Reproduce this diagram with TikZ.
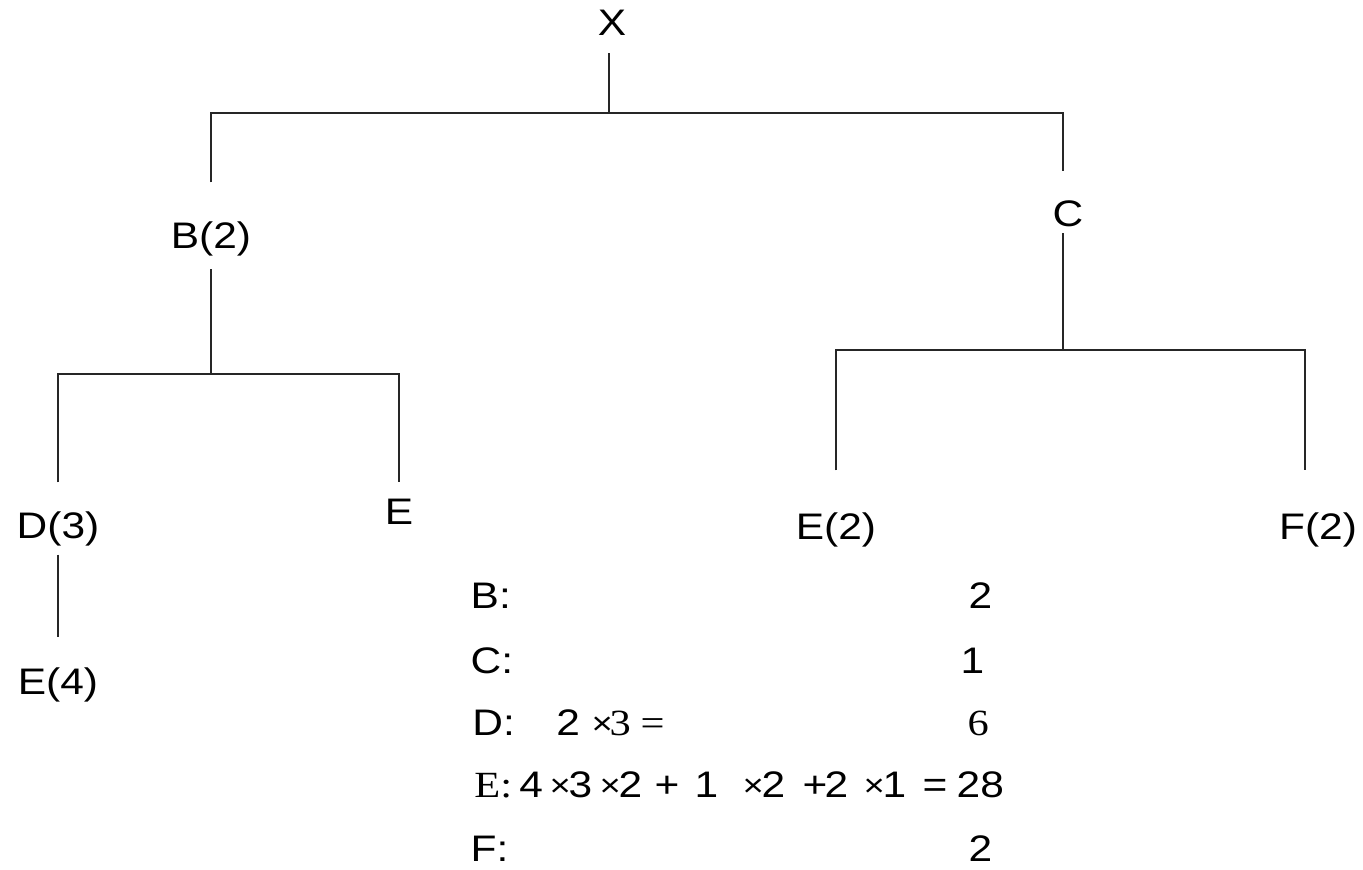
\documentclass[tikz,border=0pt]{standalone}
\usepackage{fontspec}
\setmainfont{Liberation Sans}[FakeStretch=1.15]
\newfontfamily\tms{Liberation Serif}[FakeStretch=1.15]
\usepackage{tikz}

\newcommand{\putat}[2]{\rlap{\hspace{#1cm}#2}}
\newcommand{\mul}{\raisebox{0.01cm}{\fontsize{9}{10}\selectfont ×}}

\begin{document}
\begin{tikzpicture}[x=0.01cm,y=-0.01cm,
  lbl/.style={inner sep=0pt,anchor=base,text height=0.26cm,text depth=0.06cm,font=\fontsize{10.5}{12}\selectfont},
  row/.style={inner sep=0pt,anchor=base west,font=\fontsize{10.5}{12}\selectfont},
  edge/.style={draw,black!85,line width=0.6pt}]
\useasboundingbox (0,0) rectangle (1363,869);

\node[lbl] (X) at (612,35) {X};
\node[lbl] (B) at (211,248) {B(2)};
\node[lbl] (C) at (1068,226) {C};
\node[lbl] (D3) at (58,538) {D(3)};
\node[lbl] (E1) at (399,524) {E};
\node[lbl] (E2) at (836,539) {E(2)};
\node[lbl] (F2) at (1318,539) {F(2)};
\node[lbl] (E4) at (58,694) {E(4)};

\coordinate (xbar) at (609,113);
\coordinate (bbar) at (211,374);
\coordinate (cbar) at (1063,350);

\path[edge,shorten >=0.11cm] (xbar) -- (xbar |- X.south);
\path[edge,shorten <=0.39cm,shorten >=0.28cm] (B.north) |- (xbar) -| (cbar |- C.north);
\path[edge,shorten >=0.14cm] (bbar) -- (bbar |- B.south);
\path[edge] (cbar) -- (cbar |- C.south);
\path[edge,shorten <=0.29cm,shorten >=0.15cm] (D3.north) |- (bbar) -| (E1.north);
\path[edge,shorten <=0.42cm,shorten >=0.42cm] (E2.north) |- (cbar) -| ([xshift=-0.13cm]F2.north);
\path[edge,shorten <=0.10cm,shorten >=0.30cm] (D3.south) -- (E4.north);

\node[row] (rB) at (470,608) {B:};
\node[row] (vB) at (968,608) {2};
\node[row] (rC) at (470,673) {C:};
\node[row] (vC) at (960,673) {1};
\node[row] (rD) at (470,735) {\putat{0}{D:}\putat{0.84}{2}\putat{1.19}{\mul}\putat{1.37}{\tms 3}\putat{1.68}{\tms =}};
\node[row] (vD) at (967,735) {\tms 6};
\node[row] (rE) at (470,797) {\putat{0.02}{\tms E:}\putat{0.47}{4}\putat{0.77}{\mul}\putat{0.96}{3}%
  \putat{1.27}{\mul}\putat{1.46}{2}\putat{1.82}{+}\putat{2.22}{1}\putat{2.70}{\mul}\putat{2.89}{2}%
  \putat{3.30}{+}\putat{3.52}{2}\putat{3.91}{\mul}\putat{4.10}{1}\putat{4.50}{=}\putat{4.84}{28}};
\node[row] (rF) at (470,861) {F:};
\node[row] (vF) at (968,861) {2};
\end{tikzpicture}
\end{document}
